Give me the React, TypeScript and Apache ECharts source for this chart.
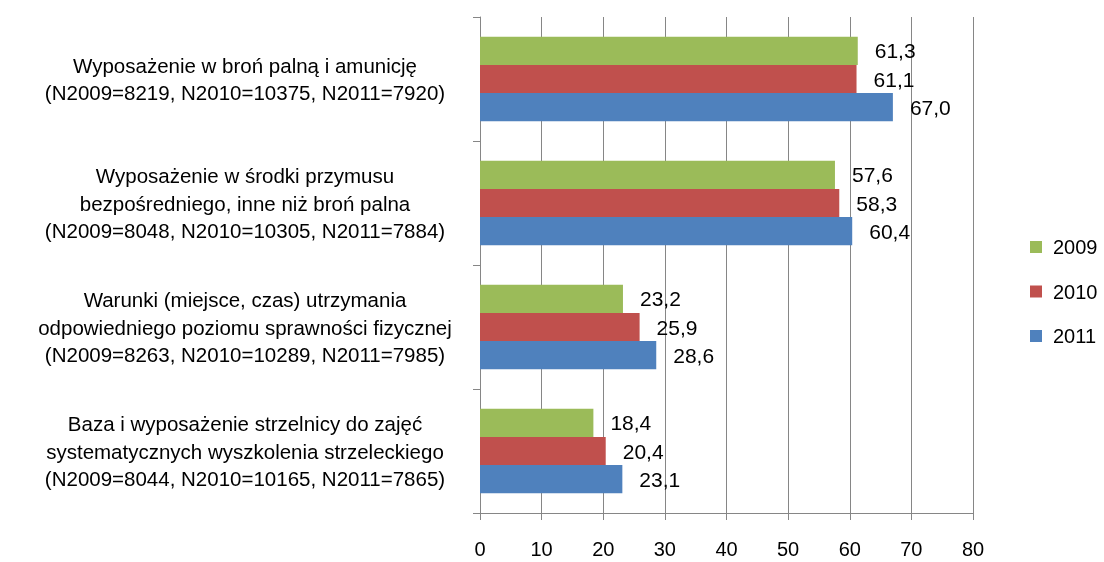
import React, { useEffect, useRef } from "react";
import * as echarts from "echarts";

const categories = [
  "Wyposażenie w broń palną i amunicję\n(N2009=8219, N2010=10375, N2011=7920)",
  "Wyposażenie w środki przymusu\nbezpośredniego, inne niż broń palna\n(N2009=8048, N2010=10305, N2011=7884)",
  "Warunki (miejsce, czas) utrzymania\nodpowiedniego poziomu sprawności fizycznej\n(N2009=8263, N2010=10289, N2011=7985)",
  "Baza i wyposażenie strzelnicy do zajęć\nsystematycznych wyszkolenia strzeleckiego\n(N2009=8044, N2010=10165, N2011=7865)",
];
const seriesNames = ["2009", "2010", "2011"];
const values2009 = [61.3, 57.6, 23.2, 18.4];
const values2010 = [61.1, 58.3, 25.9, 20.4];
const values2011 = [67.0, 60.4, 28.6, 23.1];
const colors = ["#9BBB59", "#C0504D", "#4F81BD"];
const xTicks = { min: 0, max: 80, interval: 10 };

export default function App() {
  const ref = useRef<HTMLDivElement>(null);
  useEffect(() => {
    if (!ref.current) return;
    const chart = echarts.init(ref.current, null, { renderer: "svg" });
    const font = "'Liberation Sans', Arial, sans-serif";
    const data = [values2009, values2010, values2011];
    chart.setOption({
      animation: false,
      textStyle: { fontFamily: font, color: "#000" },
      grid: { left: 480, right: 131, top: 17, bottom: 49, containLabel: false },
      legend: {
        orient: "vertical",
        left: 1030,
        top: 237,
        padding: 0,
        itemWidth: 12,
        itemHeight: 12,
        itemGap: 24.5,
        icon: "rect",
        textStyle: { fontSize: 20, lineHeight: 20, color: "#000", fontFamily: font, padding: [0, 0, 0, 6] },
        data: seriesNames,
      },
      xAxis: {
        type: "value",
        min: xTicks.min,
        max: xTicks.max,
        interval: xTicks.interval,
        axisLine: { show: true, lineStyle: { color: "#868686", width: 1 } },
        axisTick: { show: true, length: 7, lineStyle: { color: "#868686" } },
        splitLine: { show: true, lineStyle: { color: "#868686", width: 1 } },
        axisLabel: { fontSize: 20, color: "#000", margin: 26, fontFamily: font, formatter: (v: number) => String(v) },
      },
      yAxis: {
        type: "category",
        inverse: true,
        data: categories,
        axisLine: { show: true, lineStyle: { color: "#868686", width: 1 } },
        axisTick: { show: true, length: 7, lineStyle: { color: "#868686" } },
        axisLabel: {
          fontSize: 20.5,
          lineHeight: 27.5,
          color: "#000",
          align: "center",
          margin: 235,
          fontFamily: font,
        },
      },
      series: seriesNames.map((name, i) => ({
        name,
        type: "bar",
        data: data[i],
        barGap: "0%",
        barCategoryGap: "32%",
        itemStyle: { color: colors[i] },
        label: {
          show: true,
          position: "right",
          distance: 17,
          fontSize: 21,
          color: "#000",
          fontFamily: font,
          formatter: (p: any) => p.value.toFixed(1).replace(".", ","),
        },
      })),
    });
    return () => chart.dispose();
  }, []);
  return (
    <div
      ref={ref}
      style={{ position: "fixed", left: 0, top: 0, width: 1104, height: 562 }}
    />
  );
}
